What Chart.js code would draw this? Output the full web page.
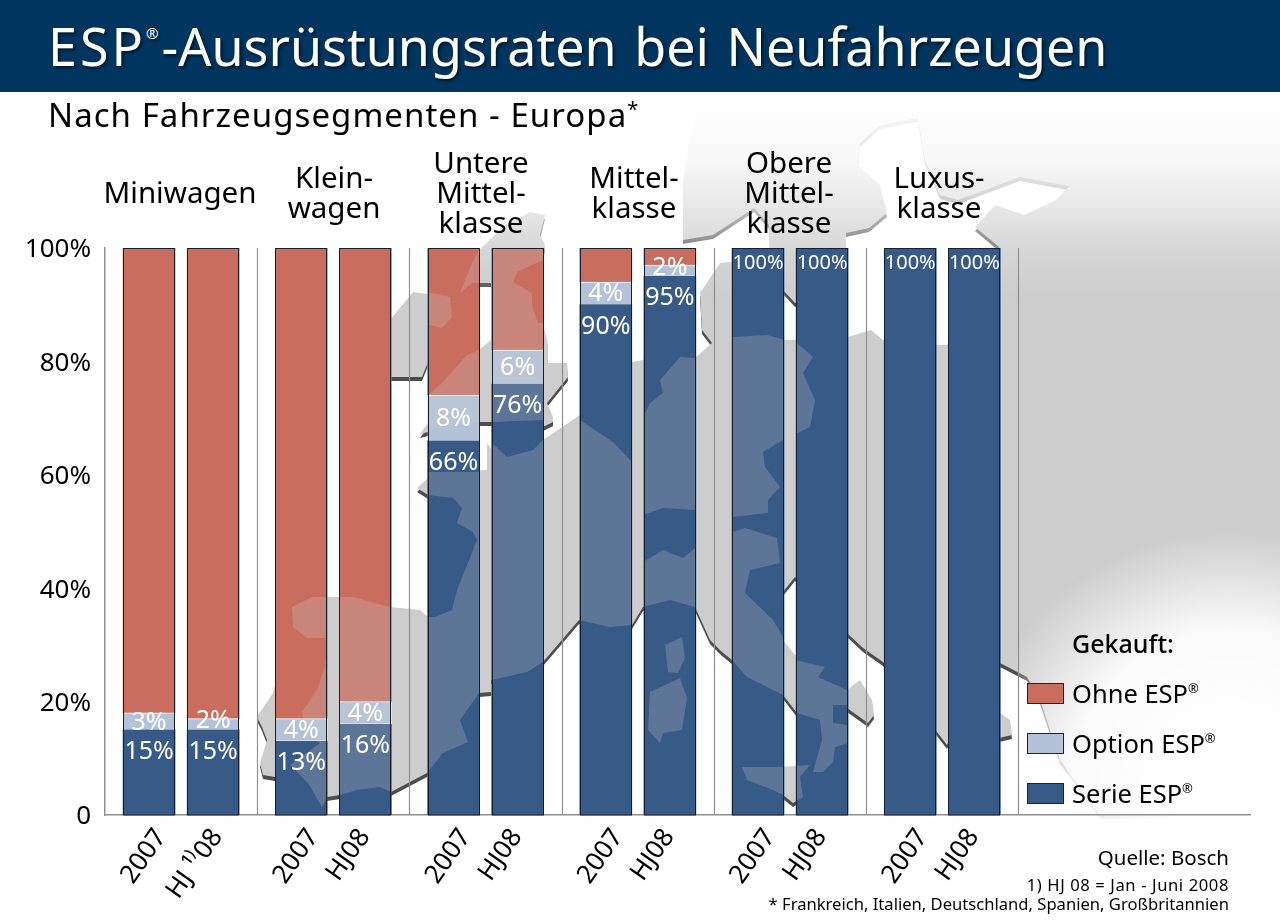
<!DOCTYPE html>
<html lang="de">
<head>
<meta charset="utf-8">
<title>ESP-Ausrüstungsraten bei Neufahrzeugen</title>
<script src="https://cdn.jsdelivr.net/npm/chart.js@4"></script>
<style>
  html, body { margin: 0; padding: 0; background: #fff; }
  #page { position: relative; width: 1280px; height: 924px; overflow: hidden; font-family: "Noto Sans", sans-serif; color: #000; }
  #chart { position: absolute; left: 0; top: 0; }
  #header { position: absolute; left: 0; top: 0; width: 1280px; height: 92px; background: #00355f; }
  #title { position: absolute; left: 48px; top: 12px; font-size: 52px; line-height: 68px; color: #fff; white-space: nowrap; word-spacing: 4px; text-shadow: 2px 2px 3px rgba(0,0,0,.55); }
  #title span { letter-spacing: 3px; }
  #title sup { font-size: 15px; line-height: 0; vertical-align: 27px; letter-spacing: 0; margin-right: 3px; }
  #subtitle { position: absolute; left: 48px; top: 93px; font-size: 33px; line-height: 44px; white-space: nowrap; letter-spacing: 1.05px; }
  #subtitle sup { font-size: 20px; line-height: 0; vertical-align: 11px; }
  .group { position: absolute; width: 200px; margin-left: -100px; text-align: center; font-size: 29.5px; line-height: 30px; white-space: pre-line; }
  #legend-title { position: absolute; left: 1072px; top: 628px; font-size: 25px; line-height: 30px; font-weight: 500; white-space: nowrap; }
  .swatch { position: absolute; left: 1027px; width: 35px; height: 19px; border: 1px solid #1c2430; }
  .legend-text { position: absolute; left: 1072px; font-size: 25.5px; line-height: 30px; white-space: nowrap; }
  .legend-text sup { font-size: 13px; line-height: 0; vertical-align: 10px; }
  .note { position: absolute; right: 51px; white-space: nowrap; }
</style>
</head>
<body>
<div id="page">
  <canvas id="chart" width="1280" height="924"></canvas>
  <div id="header"><div id="title"><span>ESP</span><sup>®</sup>-Ausrüstungsraten bei Neufahrzeugen</div></div>
  <div id="subtitle">Nach Fahrzeugsegmenten - Europa<sup>*</sup></div>
  <div id="groups"></div>
  <div id="legend-title">Gekauft:</div>
  <div id="legend"></div>
  <div class="note" style="top:843px;font-size:20.5px;line-height:28px">Quelle: Bosch</div>
  <div class="note" style="top:873px;font-size:16.6px;line-height:24px;letter-spacing:.6px">1) HJ 08 = Jan - Juni 2008</div>
  <div class="note" style="top:892px;font-size:16.6px;line-height:24px">* Frankreich, Italien, Deutschland, Spanien, Großbritannien</div>
</div>

<script>
var groupNames = ["Miniwagen", "Klein-\nwagen", "Untere\nMittel-\nklasse", "Mittel-\nklasse", "Obere\nMittel-\nklasse", "Luxus-\nklasse"];
var periodLabels = ["2007", "HJ ¹⁾08", "2007", "HJ08", "2007", "HJ08", "2007", "HJ08", "2007", "HJ08", "2007", "HJ08"];
var serieValues = [15, 15, 13, 16, 66, 76, 90, 95, 100, 100, 100, 100];
var optionValues = [3, 2, 4, 4, 8, 6, 4, 2, 0, 0, 0, 0];
var ohneValues = [82, 83, 83, 80, 26, 18, 6, 3, 0, 0, 0, 0];
var yTicks = [0, 20, 40, 60, 80, 100];

var serieColor = "#385a87";
var optionColor = "#b3c2d8";
var ohneColor = "#c96e5e";

// background map, page pixels. decoration only, no data in here
var mapMain = [[257,717],[273,693],[290,630],[292,607],[312,597],[353,597],[390,607],[420,610],[428,617],[435,617],[452,610],[457,590],[468,563],[477,540],[473,532],[457,523],[462,508],[453,498],[428,495],[417,488],[428,478],[428,472],[487,470],[487,443],[492,450],[507,458],[533,448],[543,440],[577,417],[600,400],[632,362],[643,360],[660,345],[695,358],[712,343],[702,330],[700,293],[720,263],[731,262],[783,262],[783,340],[795,340],[848,337],[871,330],[883,340],[936,345],[947,345],[999,247],[975,227],[995,205],[1024,215],[1056,200],[1075,180],[1280,100],[1280,815],[1100,815],[1060,760],[1040,700],[1027,677],[1000,663],[999,738],[1012,735],[1010,720],[1000,713],[960,720],[947,745],[883,662],[863,648],[847,633],[795,577],[783,592],[783,640],[795,655],[847,690],[860,680],[872,700],[874,715],[868,723],[847,708],[847,725],[848,743],[835,747],[833,762],[813,772],[822,740],[820,720],[797,713],[783,695],[773,690],[747,677],[732,660],[722,652],[710,640],[695,607],[670,600],[643,607],[632,625],[610,627],[579,620],[543,662],[527,672],[491,680],[491,692],[479,693],[460,720],[468,742],[443,753],[427,773],[391,792],[380,787],[357,790],[340,795],[327,797],[327,805],[322,807],[300,795],[275,777],[263,775],[260,763],[267,740],[262,727]];
var mapScandinavia = [[690,135],[683,180],[683,240],[713,235],[736,220],[754,208],[769,225],[769,248],[783,290],[795,303],[846,280],[846,233],[869,228],[887,213],[880,185],[858,165],[860,143],[880,125],[918,118],[925,160],[940,195],[958,200],[1020,177],[1073,187],[1280,190],[1280,95],[700,95]];
var mapIreland = [[390,320],[413,292],[450,297],[452,317],[442,328],[428,330],[428,362],[422,377],[390,377]];
var mapBritain = [[460,293],[472,263],[479,250],[505,225],[530,212],[545,215],[540,235],[545,245],[543,260],[517,272],[513,282],[532,293],[532,305],[538,323],[543,323],[548,345],[548,363],[567,363],[568,377],[547,403],[553,417],[553,422],[543,427],[492,422],[480,422],[450,425],[428,432],[420,434],[428,423],[440,385],[467,355],[479,350],[491,340],[491,283],[472,283]];
var mapCorsica = [[665,645],[682,637],[685,658],[678,673],[668,672]];
var mapSardinia = [[650,692],[680,678],[687,698],[682,730],[663,733],[660,743],[648,730]];
var mapSicily = [[742,767],[780,767],[810,765],[800,777],[803,797],[793,803],[783,795],[773,790],[747,780]];

// the five countries of the footnote, these lighten the bars
var hiWest = [[292,607],[312,597],[353,597],[390,607],[420,610],[428,617],[435,617],[452,610],[457,590],[468,563],[477,540],[473,532],[457,523],[462,508],[453,498],[428,495],[417,488],[428,472],[479,472],[492,443],[507,457],[533,450],[543,440],[580,420],[613,442],[632,462],[643,470],[643,562],[663,550],[683,558],[695,548],[732,532],[745,528],[777,538],[780,563],[750,570],[745,593],[773,620],[783,637],[795,660],[825,667],[818,677],[847,690],[847,705],[833,705],[833,723],[848,725],[848,743],[835,747],[833,762],[823,772],[813,772],[822,740],[820,720],[797,713],[783,695],[773,690],[747,677],[732,660],[695,607],[670,600],[643,607],[632,625],[610,627],[579,620],[543,662],[527,672],[491,680],[479,693],[460,720],[468,742],[443,753],[427,773],[391,792],[380,787],[357,790],[340,795],[327,797],[322,807],[308,783],[290,765],[320,743],[305,735],[302,712],[317,690],[325,667],[327,638],[307,638],[293,627]];
var hiGermany = [[643,418],[643,515],[663,508],[695,510],[732,517],[750,515],[768,513],[768,500],[780,487],[765,467],[763,452],[783,440],[810,427],[815,400],[803,373],[813,357],[797,343],[767,335],[732,337],[695,358],[680,357],[660,380],[663,393],[650,403]];
var hiBritain = [[460,293],[472,263],[479,250],[491,235],[543,240],[543,260],[517,272],[513,282],[532,293],[532,305],[538,323],[543,323],[543,420],[492,422],[480,422],[450,425],[428,432],[428,395],[440,385],[467,355],[479,350],[491,340],[491,283],[472,283]];
var hiIreland = [[428,292],[450,297],[452,317],[442,328],[428,325]];

var landPolygons = [mapScandinavia, mapIreland, mapBritain, mapMain, mapCorsica, mapSardinia, mapSicily];
var hiPolygons = [hiWest, hiGermany, hiBritain, hiIreland, mapCorsica, mapSardinia, mapSicily];

window.addEventListener("load", init);

function init() {
  buildTexts();
  drawChart();
}

function id(name) {
  return document.getElementById(name);
}

function buildTexts() {
  var centers = [180, 334, 481, 634, 789, 939];
  var tops = [177, 162, 147, 162, 147, 162];
  groupNames.forEach(function(name, i) {
    var el = document.createElement("div");
    el.className = "group";
    el.style.left = centers[i] + "px";
    el.style.top = tops[i] + "px";
    el.textContent = name;
    id("groups").appendChild(el);
  });
  var items = [["Ohne ESP", ohneColor, 678], ["Option ESP", optionColor, 728], ["Serie ESP", serieColor, 778]];
  items.forEach(function(item) {
    var box = document.createElement("div");
    box.className = "swatch";
    box.style.top = (item[2] + 5) + "px";
    box.style.background = item[1];
    id("legend").appendChild(box);
    var txt = document.createElement("div");
    txt.className = "legend-text";
    txt.style.top = item[2] + "px";
    txt.innerHTML = item[0] + "<sup>®</sup>";
    id("legend").appendChild(txt);
  });
}

// 8 units between the bars of a pair, 19 between groups
function barPos(i) {
  return 5.5 + 19 * Math.floor(i / 2) + 8 * (i % 2);
}

function toPoints(values) {
  return values.map(function(v, i) { return {x: barPos(i), y: v}; });
}

// the HJ labels sit a bit further left under their bars
function tickPos(i) {
  if (i == 1) return barPos(i) - 1;
  return barPos(i) - (i % 2) * 1.6;
}

function tracePolygon(ctx, poly) {
  ctx.beginPath();
  poly.forEach(function(p, i) {
    if (i == 0) ctx.moveTo(p[0], p[1]);
    else ctx.lineTo(p[0], p[1]);
  });
  ctx.closePath();
}

var mapPlugin = {
  id: "europeMap",
  beforeDraw: function(chart) {
    var ctx = chart.ctx;
    ctx.save();
    var shade = ctx.createLinearGradient(0, 110, 0, 300);
    shade.addColorStop(0, "#f6f6f6");
    shade.addColorStop(0.42, "#d8d8d8");
    shade.addColorStop(0.63, "#9a9a9a");
    shade.addColorStop(1, "#4d4d4d");
    var land = ctx.createLinearGradient(0, 100, 0, 300);
    land.addColorStop(0, "#ffffff");
    land.addColorStop(0.3, "#f8f8f8");
    land.addColorStop(0.55, "#e6e6e6");
    land.addColorStop(0.8, "#d3d3d3");
    land.addColorStop(1, "#cdcdcd");
    landPolygons.forEach(function(poly) {
      ctx.save();
      ctx.translate(0, 4);
      ctx.fillStyle = shade;
      tracePolygon(ctx, poly);
      ctx.fill();
      ctx.restore();
    });
    ctx.fillStyle = land;
    landPolygons.forEach(function(poly) {
      tracePolygon(ctx, poly);
      ctx.fill();
    });
    // land fades out behind the legend
    var fade = ctx.createRadialGradient(1230, 790, 60, 1230, 790, 260);
    fade.addColorStop(0, "rgba(255,255,255,1)");
    fade.addColorStop(0.5, "rgba(255,255,255,0.9)");
    fade.addColorStop(1, "rgba(255,255,255,0)");
    ctx.fillStyle = fade;
    ctx.fillRect(1018, 520, 262, 300);
    ctx.restore();
  },
  beforeDatasetsDraw: function(chart) {
    var ctx = chart.ctx;
    var xs = chart.scales.x;
    var area = chart.chartArea;
    ctx.save();
    ctx.strokeStyle = "#8f8f8f";
    ctx.lineWidth = 1.2;
    for (var g = 1; g <= 6; g++) {
      var px = Math.round(xs.getPixelForValue(19 * g)) + 0.5;
      ctx.beginPath();
      ctx.moveTo(px, area.top);
      ctx.lineTo(px, area.bottom);
      ctx.stroke();
    }
    ctx.restore();
  },
  afterDatasetsDraw: function(chart) {
    var ctx = chart.ctx;
    var serie = chart.getDatasetMeta(0).data;
    var option = chart.getDatasetMeta(1).data;
    var top = chart.scales.y.getPixelForValue(100);
    var bottom = chart.scales.y.getPixelForValue(0);
    ctx.save();
    // lighter countries, only inside the bars
    ctx.save();
    ctx.beginPath();
    serie.forEach(function(bar) {
      ctx.rect(bar.x - bar.width / 2, top, bar.width, bottom - top);
    });
    ctx.clip();
    ctx.fillStyle = "rgba(205,205,205,0.25)";
    hiPolygons.forEach(function(poly) {
      tracePolygon(ctx, poly);
      ctx.fill();
    });
    ctx.restore();
    // frame of each bar
    ctx.strokeStyle = "#14202e";
    ctx.lineWidth = 1;
    serie.forEach(function(bar) {
      ctx.strokeRect(Math.round(bar.x - bar.width / 2) + 0.5, top + 0.5, Math.round(bar.width) - 1, bottom - top - 0.5);
    });
    // value labels
    ctx.fillStyle = "#fff";
    ctx.textAlign = "center";
    ctx.textBaseline = "middle";
    serie.forEach(function(bar, i) {
      var big = serieValues[i] == 100;
      ctx.font = (big ? "20px" : "25px") + ' "Noto Sans", sans-serif';
      ctx.fillText(serieValues[i] + "%", bar.x, bar.y + (big ? 15 : 22));
    });
    option.forEach(function(bar, i) {
      if (optionValues[i] == 0) return;
      ctx.font = '25px "Noto Sans", sans-serif';
      var mid = (bar.y + bar.base) / 2;
      ctx.fillText(optionValues[i] + "%", bar.x, mid + (optionValues[i] == 2 ? -3 : 1));
    });
    ctx.restore();
  }
};

function segmentBorder(ctx) {
  return ctx.raw && ctx.raw.y > 0 ? 1 : 0;
}

function drawChart() {
  new Chart(id("chart"), {
    type: "bar",
    data: {
      datasets: [
        {label: "Serie ESP", data: toPoints(serieValues), backgroundColor: serieColor, borderWidth: 0, barThickness: 52},
        {label: "Option ESP", data: toPoints(optionValues), backgroundColor: optionColor, borderColor: "#ffffff", borderWidth: segmentBorder, borderSkipped: "left", barThickness: 52},
        {label: "Ohne ESP", data: toPoints(ohneValues), backgroundColor: ohneColor, borderWidth: 0, barThickness: 52}
      ]
    },
    plugins: [mapPlugin],
    options: {
      responsive: false,
      animation: false,
      layout: {padding: {top: 248, right: 30, left: 0, bottom: 0}},
      plugins: {legend: {display: false}, tooltip: {enabled: false}},
      scales: {
        x: {
          type: "linear",
          offset: false,
          stacked: true,
          min: 0,
          max: 142.9,
          grid: {display: false, drawTicks: false},
          border: {color: "#8f8f8f", width: 1.5},
          afterFit: function(scale) { scale.height = 109; },
          afterBuildTicks: function(scale) {
            scale.ticks = periodLabels.map(function(t, i) { return {value: tickPos(i)}; });
          },
          ticks: {
            autoSkip: false,
            minRotation: 55,
            maxRotation: 55,
            padding: 8,
            labelOffset: 12,
            color: "#000",
            font: {family: "Noto Sans", size: 26},
            callback: function(value, index) { return periodLabels[index]; }
          }
        },
        y: {
          stacked: true,
          min: 0,
          max: 100,
          grid: {display: false, drawTicks: false},
          border: {color: "#8f8f8f", width: 1.5},
          afterFit: function(scale) { scale.width = 105; },
          afterBuildTicks: function(scale) {
            scale.ticks = yTicks.map(function(v) { return {value: v}; });
          },
          ticks: {
            padding: 14,
            labelOffset: 2,
            color: "#000",
            font: {family: "Noto Sans", size: 26},
            callback: function(value) { return value == 0 ? "0" : value + "%"; }
          }
        }
      }
    }
  });
}
</script>
</body>
</html>
